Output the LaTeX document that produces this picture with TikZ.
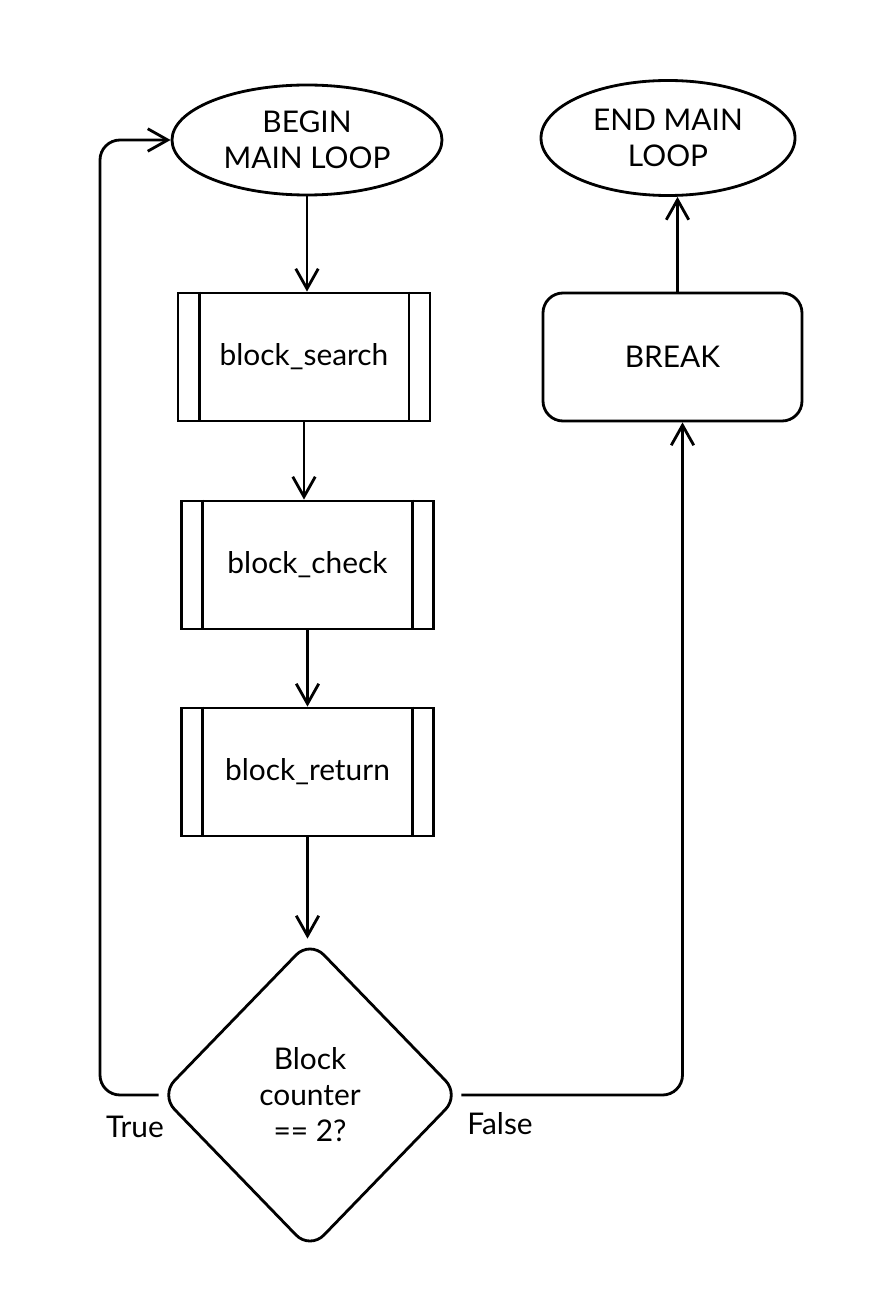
\documentclass[tikz,border=0pt]{standalone}
\usepackage{fontspec}
\setmainfont{Lato}
\usetikzlibrary{shapes.geometric,arrows.meta,positioning}

\tikzset{
    every node/.style={font=\fontsize{17}{20.5}\selectfont, align=center},
    term/.style={draw, ellipse, line width=1.6pt, minimum width=5.4cm, minimum height=2.2cm, inner sep=0pt},
    proc/.style={draw, rectangle, line width=1.6pt, minimum width=5.04cm, minimum height=2.56cm},
    brkbox/.style={draw, rectangle, rounded corners=0.4cm, line width=1.6pt, minimum width=5.18cm, minimum height=2.56cm},
    decide/.style={draw, diamond, rounded corners=0.4cm, line width=1.6pt, minimum width=6.0cm, minimum height=6.2cm, inner sep=0pt},
    arr/.style={line width=1.6pt, -{Straight Barb[length=0.4cm,width=0.45cm,line width=1.6pt]}}
}

\begin{document}
\begin{tikzpicture}
    \useasboundingbox (0,0) rectangle (17.8,-26.16);
    \node(begin)[term]at(6.14,-2.8){BEGIN\\MAIN LOOP};
    \node(endloop)[term, minimum width=5.08cm, minimum height=2.3cm]at(13.36,-2.76){END MAIN\\LOOP};
    \node(search)[proc]at(6.08,-7.14){block\_search};
    \node(check)[proc]at(6.15,-11.3){block\_check};
    \node(ret)[proc]at(6.15,-15.44){block\_return};
    \node(decision)[decide]at(6.2,-21.9){Block\\counter\\== 2?};
    \node(brk)[brkbox]at(13.45,-7.14){BREAK};
    \coordinate(loopL)at(2.0,-3.0);
    \foreach \n in {search,check,ret}{
        \draw[line width=1.6pt]([xshift=0.45cm]\n.north west)--([xshift=0.45cm]\n.south west);
        \draw[line width=1.6pt]([xshift=-0.45cm]\n.north east)--([xshift=-0.45cm]\n.south east);
    }
    \draw[arr](begin.south)--(begin.south |- search.north);
    \draw[arr](search.south)--(search.south |- check.north);
    \draw[arr](check.south)--(check.south |- ret.north);
    \draw[arr](ret.south)--(ret.south |- decision.north);
    \draw[arr, rounded corners=0.4cm](decision.west)--(decision.west -| loopL)--(begin.west -| loopL)--(begin.west);
    \draw[arr, rounded corners=0.4cm](decision.east)-|([xshift=0.2cm]brk.south);
    \draw[arr]([xshift=0.1cm]brk.north)--([xshift=0.1cm]brk.north |- endloop.south);
    \node(lbltrue)at(2.7,-22.54){True};
    \node(lblfalse)at(10.0,-22.48){False};
\end{tikzpicture}
\end{document}
